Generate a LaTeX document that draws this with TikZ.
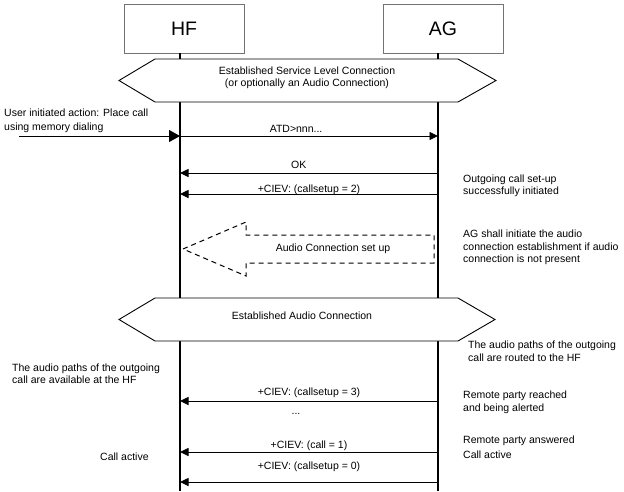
\documentclass[tikz,border=0pt]{standalone}
\usepackage{fontspec}
\setmainfont{Liberation Sans}
\usetikzlibrary{arrows.meta}

\begin{document}
\begin{tikzpicture}[x=1pt, y=-1pt,
		every node/.style = {font=\fontsize{10.5}{12.5}\selectfont, inner sep=0pt},
		entity/.style = {draw=black!55, line width=0.8pt, minimum width=120pt, minimum height=49pt, font=\fontsize{19.5}{22}\selectfont},
		lifeline/.style = {line width=1.2pt},
		msg/.style = {line width=0.9pt, -{Triangle[length=8.5pt, width=8pt]}},
		hexa/.style = {draw, line width=0.9pt, fill=white, line join=miter},
		setup/.style = {draw, line width=1pt, dash pattern=on 5pt off 4pt},
		note/.style = {anchor=west, align=left}]
	\useasboundingbox (0,0) rectangle (624,491);
	\node[entity] (hf) at (184,28.5) {HF};
	\node[entity] (ag) at (443,28.5) {AG};
	\coordinate (hfT) at (180,53);
	\coordinate (hfB) at (180,491);
	\coordinate (agT) at (438,53);
	\coordinate (agB) at (438,491);
	\draw[lifeline] (hfT) -- (hfB);
	\draw[lifeline] (agT) -- (agB);
	\foreach \n/\y in {atd/136, ok/173, cs2/194, cs3/401, call/452, cs0/482} {
		\coordinate (hf\n) at (180,\y);
		\coordinate (ag\n) at (438,\y);
	}
	\draw[hexa] (119,80.5) -- (155,59) -- (458,59) -- (496,80.5) -- (458,102) -- (155,102) -- cycle;
	\node[align=center] (slc) at (307,78) {Established Service Level Connection\\(or optionally an Audio Connection)};
	\coordinate (user) at (19,136);
	\draw[msg, -{Triangle[length=11pt, width=12pt]}] (user) -- (hfatd);
	\node[note] (uia) at (4,121) {User initiated action: Place call\\[2pt]using memory dialing};
	\draw[msg] (hfatd) -- node[pos=0.45, above=3pt] {ATD>nnn...} (agatd);
	\draw[msg] (agok) -- node[pos=0.54, above=4pt] {OK} (hfok);
	\draw[msg] (agcs2) -- node[above=-1pt] {+CIEV: (callsetup = 2)} (hfcs2);
	\node[note] (ogc) at (463,186) {Outgoing call set-up\\successfully initiated};
	\draw[setup] (183,249) -- (246,222) -- (246,235) -- (434,235) -- (434,263) -- (246,263) -- (246,276) -- cycle;
	\node (acs) at (333,249) {Audio Connection set up};
	\node[note] (agi) at (463,247.5) {AG shall initiate the audio\\connection establishment if audio\\connection is not present};
	\draw[hexa] (119,319.5) -- (155,298) -- (458,298) -- (495,319.5) -- (458,341) -- (155,341) -- cycle;
	\node (eac) at (302,316) {Established Audio Connection};
	\node[note] (rtd) at (468,351) {The audio paths of the outgoing\\call are routed to the HF};
	\node[note] (avl) at (12,373.5) {The audio paths of the outgoing\\call are available at the HF};
	\draw[msg] (agcs3) -- node[above=3pt] {+CIEV: (callsetup = 3)} (hfcs3);
	\node[note] (rpr) at (463,402.5) {Remote party reached\\and being alerted};
	\node (dots) at (296,414) {...};
	\draw[msg] (agcall) -- node[above=1pt] {+CIEV: (call = 1)} (hfcall);
	\node[note] (rpa) at (463,441) {Remote party answered};
	\node[note] (cal) at (463,455) {Call active};
	\node[anchor=west] (hca) at (100,457) {Call active};
	\draw[msg] (agcs0) -- node[above=10pt] {+CIEV: (callsetup = 0)} (hfcs0);
\end{tikzpicture}
\end{document}
